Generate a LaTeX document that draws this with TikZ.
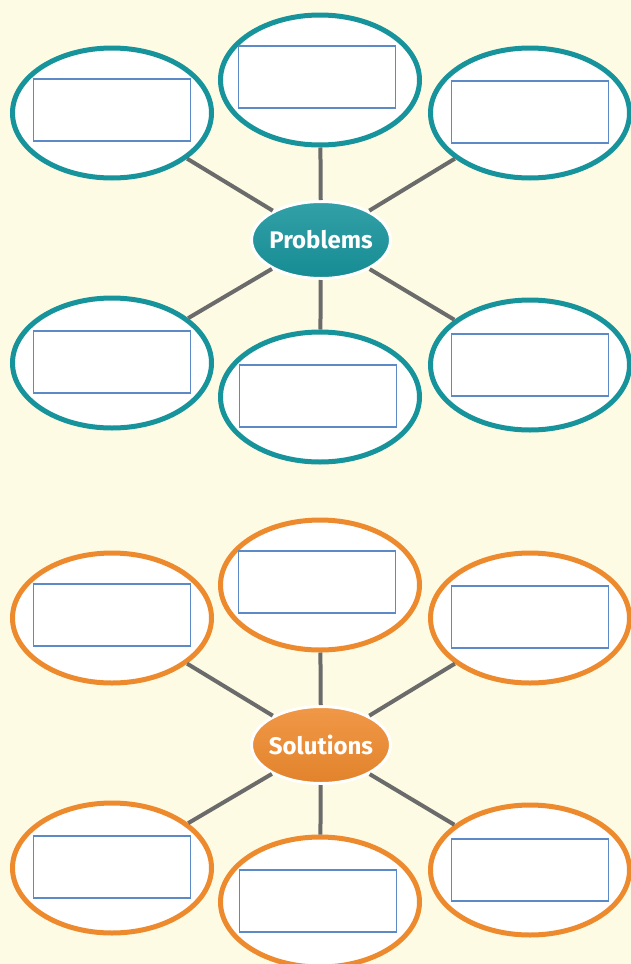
\documentclass[tikz,border=0pt]{standalone}
\usepackage{fontspec}
\setsansfont{Fira Sans}
\usepackage{xcolor}
\usetikzlibrary{shapes.geometric}

\definecolor{cream}{HTML}{FDFBE3}
\definecolor{teal}{HTML}{17939B}
\definecolor{orange}{HTML}{EE8A2E}
\definecolor{slotblue}{HTML}{5B8AC6}
\definecolor{spokegrey}{HTML}{6B6B6B}

\tikzset{
  bubble/.style={ellipse, draw=#1, line width=5pt, fill=white, inner sep=0pt,
    minimum width=199pt, minimum height=130pt},
  slot/.style={draw=slotblue, line width=1.2pt, fill=white, inner sep=0pt,
    minimum width=157pt, minimum height=62pt},
  hub/.style={ellipse, draw=white, line width=3pt, inner sep=-4pt,
    minimum width=139pt, minimum height=77pt,
    top color=#1!88!white, bottom color=#1!95!black, text=white,
    font=\sffamily\bfseries\fontsize{24}{24}\selectfont},
  spoke/.style={draw=spokegrey, line width=4pt}
}

\begin{document}
\begin{tikzpicture}[x=1pt,y=-1pt]
  \useasboundingbox (0,0) rectangle (631,964);
  \fill[cream] (0,0) rectangle (631,964);
  \clip (0,0) rectangle (631,964);
  \foreach \grp/\clr/\word/\dy in {p/teal/Problems/0, s/orange/Solutions/505} {
    \begin{scope}[shift={(0,\dy)}]
      % outer bubbles
      \node[bubble=\clr] (\grp-tl) at (112,113) {};
      \node[bubble=\clr] (\grp-tc) at (320,80) {};
      \node[bubble=\clr] (\grp-tr) at (530,113) {};
      \node[bubble=\clr] (\grp-bl) at (112,363) {};
      \node[bubble=\clr] (\grp-bc) at (320,397) {};
      \node[bubble=\clr] (\grp-br) at (530,365) {};
      % empty boxes
      \node[slot] (\grp-tl-box) at (112,110) {};
      \node[slot] (\grp-tc-box) at (317,77) {};
      \node[slot] (\grp-tr-box) at (530,112) {};
      \node[slot] (\grp-bl-box) at (112,362) {};
      \node[slot] (\grp-bc-box) at (318,396) {};
      \node[slot] (\grp-br-box) at (530,365) {};
      % centre
      \node[hub=\clr] (\grp-hub) at (321,240) {\word};
      \foreach \b in {tl,tc,tr,bl,bc,br}
        \draw[spoke] (\grp-hub) -- (\grp-\b);
    \end{scope}
  }
\end{tikzpicture}
\end{document}
